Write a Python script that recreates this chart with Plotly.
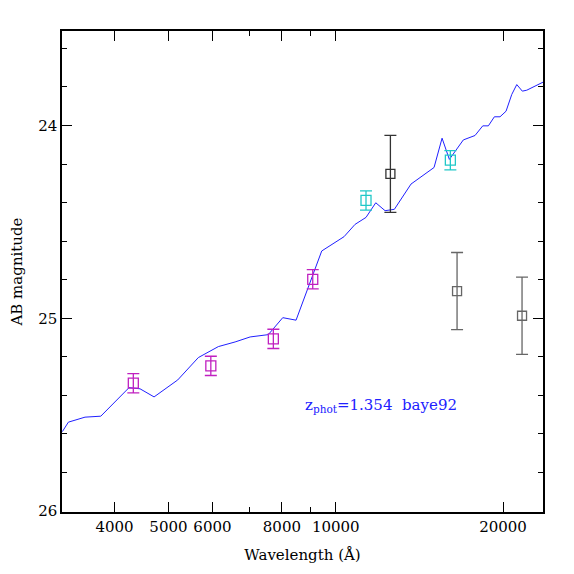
import numpy as np
import plotly.graph_objects as go

# model SED (blue line)
sed_wave = [3222, 3303, 3539, 3778, 4247, 4445, 4711, 5196, 5659, 6149, 6590,
            7014, 7562, 8029, 8484, 9436, 10349, 10833, 11336, 11803, 12267,
            12748, 13659, 15028, 15535, 16011, 16966, 17807, 18387, 18820,
            19294, 19752, 20250, 20736, 21170, 21663, 22066, 23536, 24000]
sed_mag = [25.588, 25.539, 25.513, 25.508, 25.360, 25.366, 25.408, 25.320,
           25.204, 25.147, 25.123, 25.097, 25.085, 24.997, 25.010, 24.651,
           24.577, 24.513, 24.477, 24.401, 24.442, 24.435, 24.304, 24.218,
           24.066, 24.176, 24.075, 24.052, 24.002, 24.002, 23.955, 23.955,
           23.926, 23.839, 23.788, 23.822, 23.817, 23.776, 23.765]

# photometry
mag_wave = [4323, 5960, 7722, 9091]
mag_mag = [25.337, 25.247, 25.107, 24.798]
mag_err = [0.05, 0.05, 0.05, 0.05]

cyan_wave = [11336, 16078]
cyan_mag = [24.389, 24.180]
cyan_err = [0.05, 0.05]

blk_wave = [12541]
blk_mag = [24.251]
blk_err = [0.2]

gry_wave = [16530, 21637]
gry_mag = [24.859, 24.987]
gry_err = [0.2, 0.2]

xticks = [4000, 5000, 6000, 8000, 10000, 20000]
xminor = [7000, 9000]
yticks = [24, 25, 26]

FONT = "DejaVu Serif"

fig = go.Figure()
fig.add_trace(go.Scatter(x=sed_wave, y=sed_mag, mode="lines",
                         line=dict(color="#2020ff", width=1)))


def add_pts(xs, ys, es, col, size):
    fig.add_trace(go.Scatter(
        x=xs, y=ys, mode="markers",
        marker=dict(symbol="square-open", size=size, color=col,
                    line=dict(width=1.3, color=col)),
        error_y=dict(type="data", array=es, visible=True, color=col,
                     thickness=1.3, width=6)))


add_pts(mag_wave, mag_mag, mag_err, "#c020c0", 10)
add_pts(cyan_wave, cyan_mag, cyan_err, "#20c8c8", 10)
add_pts(blk_wave, blk_mag, blk_err, "#333333", 9)
add_pts(gry_wave, gry_mag, gry_err, "#666666", 9)

fig.add_annotation(x=np.log10(8730), y=25.45, xref="x", yref="y",
                   text="z<sub>phot</sub>=1.354  baye92", showarrow=False,
                   xanchor="left", yanchor="middle",
                   font=dict(family=FONT, size=15, color="#2020ff"))

fig.update_xaxes(type="log", range=[np.log10(3217), np.log10(23600)],
                 tickvals=xticks, ticktext=[str(v) for v in xticks],
                 ticks="inside", ticklen=10, tickcolor="black",
                 showline=True, linecolor="black", linewidth=1.5,
                 mirror="ticks", showgrid=False, zeroline=False,
                 automargin=False,
                 minor=dict(tickvals=xminor, ticks="inside", ticklen=5,
                            tickcolor="black", showgrid=False),
                 tickfont=dict(family=FONT, size=15, color="black"),
                 title=dict(text="Wavelength (Å)", standoff=15,
                            font=dict(family=FONT, size=15, color="black")))
fig.update_yaxes(range=[26.005, 23.51], tickvals=yticks,
                 ticks="inside", ticklen=10, tickcolor="black",
                 showline=True, linecolor="black", linewidth=1.5,
                 mirror="ticks", showgrid=False, zeroline=False,
                 automargin=False,
                 minor=dict(dtick=0.2, tick0=0, ticks="inside", ticklen=5,
                            tickcolor="black", showgrid=False),
                 tickfont=dict(family=FONT, size=15, color="black"),
                 title=dict(text="AB magnitude", standoff=13,
                            font=dict(family=FONT, size=15, color="black")))

# page body has an 8px margin, so the figure is 566 wide to fill the window
fig.update_layout(width=566, height=566, showlegend=False,
                  margin=dict(l=54, r=31, t=23, b=62),
                  plot_bgcolor="white", paper_bgcolor="white")

fig.write_html("out.html")
